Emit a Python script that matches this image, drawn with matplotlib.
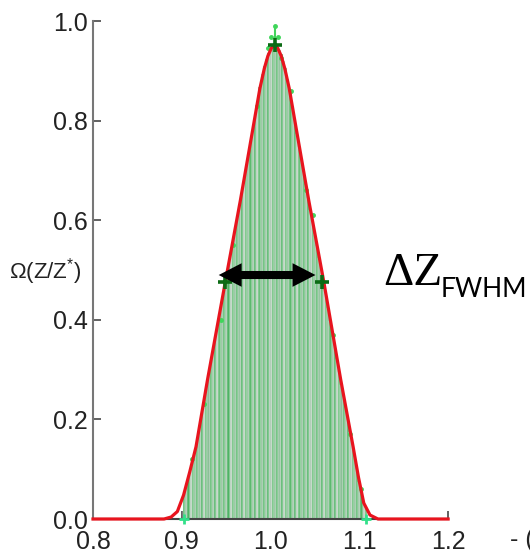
import numpy as np
import matplotlib
matplotlib.use("Agg")
import matplotlib.pyplot as plt

plt.rcParams['font.family'] = ['Liberation Sans', 'DejaVu Sans']
plt.rcParams['mathtext.default'] = 'regular'

# histogram bins (Z/Z*) and heights
bin_start, bin_step = 0.9025, 0.0025
hist_vals = [0.05, 0.068, 0.085, 0.102, 0.12, 0.138, 0.16, 0.186, 0.212, 0.238,
             0.264, 0.29, 0.314, 0.339, 0.363, 0.388, 0.412, 0.437, 0.461, 0.486,
             0.51, 0.534, 0.558, 0.582, 0.606, 0.63, 0.655, 0.681, 0.706, 0.732,
             0.757, 0.783, 0.811, 0.84, 0.868, 0.893, 0.91, 0.924, 0.936, 0.944,
             0.95, 0.952, 0.946, 0.941, 0.933, 0.92, 0.905, 0.883, 0.857, 0.828,
             0.8, 0.773, 0.747, 0.722, 0.696, 0.671, 0.645, 0.621, 0.597, 0.573,
             0.549, 0.524, 0.5, 0.476, 0.45, 0.424, 0.398, 0.373, 0.347, 0.321,
             0.295, 0.27, 0.246, 0.222, 0.198, 0.174, 0.15, 0.125, 0.1, 0.075,
             0.053, 0.032, 0.022]
bin_x = bin_start + bin_step * np.arange(len(hist_vals))

# smooth fit (red)
fit_x = [0.80, 0.880, 0.888, 0.895, 0.902, 0.909, 0.916, 0.929, 0.949, 0.966,
         0.980, 0.988, 0.993, 0.997, 1.001, 1.0045, 1.008, 1.012, 1.016, 1.021,
         1.029, 1.043, 1.060, 1.079, 1.093, 1.099, 1.105, 1.112, 1.121, 1.20]
fit_y = [0.0, 0.0, 0.004, 0.015, 0.048, 0.095, 0.145, 0.28, 0.476, 0.64,
         0.783, 0.865, 0.905, 0.93, 0.946, 0.952, 0.946, 0.93, 0.905, 0.865,
         0.783, 0.64, 0.476, 0.28, 0.145, 0.084, 0.032, 0.008, 0.0, 0.0]

# raw samples (light green)
pts_x = [1.0045, 1.000, 1.008, 0.997, 1.012, 0.985, 0.958, 0.944, 0.925, 0.912,
         1.023, 1.040, 1.048, 1.070, 1.090, 1.102]
pts_y = [0.990, 0.967, 0.967, 0.945, 0.925, 0.83, 0.55, 0.40, 0.23, 0.12,
         0.86, 0.66, 0.61, 0.37, 0.17, 0.06]

# peak and half maximum points
key_x = [1.0045, 0.949, 1.058]
key_y = [0.952, 0.476, 0.476]

fig = plt.figure(figsize=(5.3, 5.57), dpi=100)
ax = fig.add_axes([0.1755, 0.0682, 0.67, 0.894])

bar_cols = ['#5cba6e', '#98c4a3', '#4fb365', '#b2cdb9', '#6cc07c', '#8dbf99']
cols = [bar_cols[i % len(bar_cols)] for i in range(len(hist_vals))]
ax.bar(bin_x, hist_vals, width=bin_step, color=cols, edgecolor='#f4f8f4', linewidth=0.25, zorder=2)

ax.plot([1.0045, 1.0045], [0.952, 0.99], color='#44d35c', lw=1.5, zorder=3)
ax.plot(pts_x, pts_y, 'o', color='#3fd65a', ms=2.5, zorder=3, clip_on=False)
ax.plot([0.902, 1.107], [0, 0], '+', color='#33e08a', ms=7, mew=2, zorder=4, clip_on=False)

ax.plot(fit_x, fit_y, color='#e8141e', lw=2.3, zorder=5, clip_on=False)
ax.plot(key_x, key_y, '+', color='#0b6b14', ms=10, mew=2.6, zorder=6)

# FWHM arrow
mid = 0.996
for end in (0.9416, 1.0506):
    ax.annotate('', xy=(end, 0.49), xytext=(mid, 0.49),
                arrowprops=dict(arrowstyle='simple,head_length=1.65,head_width=1.7,tail_width=0.58',
                                color='black', lw=0, shrinkA=0, shrinkB=0, mutation_scale=10),
                zorder=7)

ax.set_xlim(0.8, 1.2)
ax.set_ylim(0, 1.0)
ax.set_xticks([0.8, 0.9, 1.0, 1.1, 1.2])
ax.set_yticks([0.0, 0.2, 0.4, 0.6, 0.8, 1.0])
ax.set_xticklabels(['0.8', '0.9', '1.0', '1.1', '1.2'])
ax.set_yticklabels(['0.0', '0.2', '0.4', '0.6', '0.8', '1.0'])
ax.tick_params(direction='in', length=6, width=1.3, color='#555555', labelsize=18, labelcolor='#222222')
ax.tick_params(axis='x', pad=8)
ax.tick_params(axis='y', pad=4)
ax.spines['top'].set_visible(False)
ax.spines['right'].set_visible(False)
ax.spines['left'].set_color('#777777')
ax.spines['left'].set_linewidth(1.5)
ax.spines['bottom'].set_color('#444444')
ax.spines['bottom'].set_linewidth(1.5)

ax.text(-0.032, 0.497, 'Ω(Z/Z$^{*}$)', transform=ax.transAxes, ha='right', va='center',
        fontsize=16, color='#222222')

fig.text(383 / 530, 1 - 285 / 557, 'ΔZ', fontfamily='Liberation Serif', fontsize=34,
         va='baseline', ha='left', color='black')
fig.text(441 / 530, 1 - 297 / 557, 'FWHM', fontfamily='Lato', fontsize=19,
         va='baseline', ha='left', color='black')
fig.text(510 / 530, 1 - 547 / 557, '- (', fontsize=18, va='baseline', ha='left', color='#222222')

fig.savefig('out.png', dpi=100)
